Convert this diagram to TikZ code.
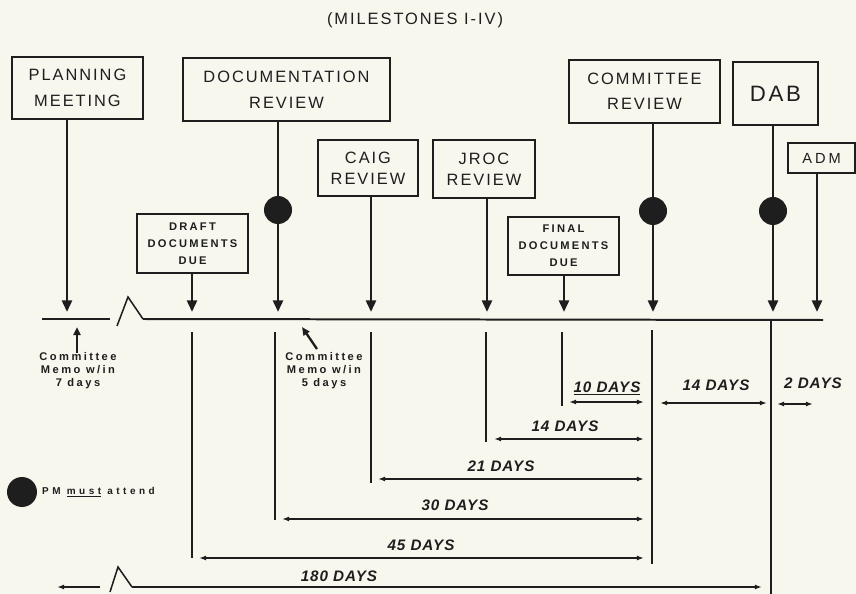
\documentclass[tikz,border=0pt]{standalone}
\usepackage{fontspec}
\setmainfont{Liberation Sans}
\newfontfamily\boxfont[LetterSpace=12]{Liberation Sans}
\newfontfamily\duefont[LetterSpace=20]{Liberation Sans}
\newfontfamily\memofont[LetterSpace=22]{Liberation Sans}
\newfontfamily\legendfont[LetterSpace=35]{Liberation Sans}
\newfontfamily\daysfont[LetterSpace=6]{Liberation Sans}
\usetikzlibrary{arrows.meta,shadows}
\definecolor{paper}{RGB}{248,247,238}
\definecolor{ink}{RGB}{30,30,30}

\begin{document}
\begin{tikzpicture}[x=0.03cm,y=-0.03cm,>=Latex,
  milebox/.style={draw=ink,line width=1.4pt,fill=paper,inner sep=0pt,align=center,text=ink,
    drop shadow={shadow xshift=0.9pt,shadow yshift=-0.9pt,fill=ink},
    font={\boxfont\fontsize{14}{22}\selectfont}},
  duebox/.style={milebox,line width=1.1pt,font={\duefont\bfseries\fontsize{9.5}{14.5}\selectfont}},
  stem/.style={ink,line width=2.4pt,-{Triangle[length=10pt,width=8.5pt]}},
  tline/.style={ink,line width=1.7pt},
  guide/.style={ink,line width=1.2pt},
  dimarr/.style={ink,line width=1.4pt,{Latex[length=6pt,width=4.2pt]}-{Latex[length=6pt,width=4.2pt]}},
  pmdot/.style={circle,fill=ink,inner sep=0pt,minimum size=0.84cm},
  days/.style={text=ink,inner sep=0pt,font={\daysfont\bfseries\itshape\fontsize{13}{15}\selectfont}},
  memo/.style={text=ink,inner sep=0pt,align=center,font={\memofont\bfseries\fontsize{9.5}{11}\selectfont}},
  memoarr/.style={ink,line width=2pt,-{Triangle[length=7pt,width=6pt]}}]

% background and frame
\fill[paper] (0,0) rectangle (856,594);
\useasboundingbox (0,0) rectangle (856,594);

\node[text=ink,font={\boxfont\fontsize{14}{17}\selectfont}] (title) at (415,20) {(MILESTONES I-IV)};

% milestone boxes
\node[milebox,minimum width=3.93cm,minimum height=1.86cm] (plan) at (77.5,88) {PLANNING\\MEETING};
\node[milebox,minimum width=6.21cm,minimum height=1.89cm] (docrev) at (286.5,89.5) {DOCUMENTATION\\REVIEW};
\node[milebox,minimum width=3cm,minimum height=1.68cm,font={\boxfont\fontsize{14}{18}\selectfont}] (caig) at (368,168) {CAIG\\REVIEW};
\node[milebox,minimum width=3.06cm,minimum height=1.74cm,font={\boxfont\fontsize{14}{18}\selectfont}] (jroc) at (484,169) {JROC\\REVIEW};
\node[milebox,minimum width=4.53cm,minimum height=1.89cm,font={\boxfont\fontsize{14}{21}\selectfont}] (comrev) at (644.5,91.5) {COMMITTEE\\REVIEW};
\node[milebox,minimum width=2.55cm,minimum height=1.89cm,font={\boxfont\fontsize{19}{22}\selectfont}] (dab) at (775.5,93.5) {DAB};
\node[milebox,minimum width=2.01cm,minimum height=0.9cm,font={\duefont\fontsize{12.5}{15}\selectfont}] (adm) at (821.5,158) {ADM};
\node[duebox,minimum width=3.33cm,minimum height=1.77cm] (draft) at (192.5,243.5) {DRAFT\\DOCUMENTS\\DUE};
\node[duebox,minimum width=3.33cm,minimum height=1.74cm] (final) at (563.5,246) {FINAL\\DOCUMENTS\\DUE};

% arrival points on the time line
\coordinate (tPlan) at (67,312);
\coordinate (tDraft) at (192,312);
\coordinate (tDoc) at (278,312);
\coordinate (tCaig) at (371,312);
\coordinate (tJroc) at (487,312);
\coordinate (tFinal) at (564,312);
\coordinate (tCom) at (653,312);
\coordinate (tDab) at (773,312);
\coordinate (tAdm) at (817,312);

\draw[stem] (plan.south -| tPlan) -- (tPlan);
\draw[stem] (draft.south -| tDraft) -- (tDraft);
\draw[stem] (docrev.south -| tDoc) -- (tDoc);
\draw[stem] (caig.south -| tCaig) -- (tCaig);
\draw[stem] (jroc.south -| tJroc) -- (tJroc);
\draw[stem] (final.south -| tFinal) -- (tFinal);
\draw[stem] (comrev.south -| tCom) -- (tCom);
\draw[stem] (dab.south -| tDab) -- (tDab);
\draw[stem] (adm.south -| tAdm) -- (tAdm);

% PM must attend
\node[pmdot] (dotDoc) at (278,210) {};
\node[pmdot] (dotCom) at (653,211) {};
\node[pmdot] (dotDab) at (773,211) {};

% time line with break
\coordinate (tlA) at (42,319);
\coordinate (tlB) at (110,319);
\coordinate (brA) at (117,326);
\coordinate (brB) at (128,297);
\coordinate (brC) at (143,319);
\coordinate (tlEnd) at (823,320);
\draw[tline] (tlA) -- (tlB);
\draw[tline,line width=1.3pt] (brA) -- (brB) -- (brC);
\draw[tline] (brC) -- (tlEnd);

% committee memos
\node[memo] (memo7) at (78,371) {Committee\\Memo w/in\\7 days};
\node[memo] (memo5) at (324,371) {Committee\\Memo w/in\\5 days};
\coordinate (m7tip) at (77,327);
\coordinate (m5tail) at (317,349);
\coordinate (m5tip) at (302,327);
\draw[memoarr] (memo7.north -| m7tip) -- (m7tip);
\draw[memoarr] (m5tail) -- (m5tip);

% guide lines below the time line
\coordinate (gDraftA) at (192,332); \coordinate (gDraftB) at (192,558);
\coordinate (gDocA) at (275,332);   \coordinate (gDocB) at (275,520);
\coordinate (gCaigA) at (371,332);  \coordinate (gCaigB) at (371,483);
\coordinate (gJrocA) at (486,332);  \coordinate (gJrocB) at (486,442);
\coordinate (gFinalA) at (562,332); \coordinate (gFinalB) at (562,406);
\coordinate (gComA) at (652,330);   \coordinate (gComB) at (652,564);
\coordinate (gDabA) at (771,320);   \coordinate (gDabB) at (771,594);
\draw[guide] (gDraftA) -- (gDraftB);
\draw[guide] (gDocA) -- (gDocB);
\draw[guide] (gCaigA) -- (gCaigB);
\draw[guide] (gJrocA) -- (gJrocB);
\draw[guide] (gFinalA) -- (gFinalB);
\draw[guide,line width=1.8pt] (gComA) -- (gComB);
\draw[guide,line width=1.5pt] (gDabA) -- (gDabB);

% durations
\coordinate (d10a) at (569,402);  \coordinate (d10b) at (644,402);
\coordinate (d14a) at (660,403);  \coordinate (d14b) at (767,403);
\coordinate (d2a) at (777,404);   \coordinate (d2b) at (813,404);
\coordinate (e14a) at (494,439);  \coordinate (e14b) at (644,439);
\coordinate (d21a) at (378,479);  \coordinate (d21b) at (644,479);
\coordinate (d30a) at (282,519);  \coordinate (d30b) at (644,519);
\coordinate (d45a) at (199,558);  \coordinate (d45b) at (644,558);
\draw[dimarr] (d10a) -- (d10b);
\draw[dimarr] (d14a) -- (d14b);
\draw[dimarr] (d2a) -- (d2b);
\draw[dimarr] (e14a) -- (e14b);
\draw[dimarr] (d21a) -- (d21b);
\draw[dimarr] (d30a) -- (d30b);
\draw[dimarr] (d45a) -- (d45b);

\node[days] (l10) at (607,388) {\underline{10 DAYS}};
\node[days] (l14r) at (716,385) {14 DAYS};
\node[days] (l2) at (813,383) {2 DAYS};
\node[days] (l14) at (565,426) {14 DAYS};
\node[days] (l21) at (501,466) {21 DAYS};
\node[days] (l30) at (455,505) {30 DAYS};
\node[days] (l45) at (421,545) {45 DAYS};
\node[days] (l180) at (339,576) {180 DAYS};

% 180 days with break
\coordinate (fA) at (100,587);
\coordinate (fTip) at (57,587);
\coordinate (fbA) at (110,592);
\coordinate (fbB) at (118,567);
\coordinate (fbC) at (132,587);
\coordinate (fEnd) at (762,587);
\draw[ink,line width=1.5pt,-{Latex[length=6pt,width=4.2pt]}] (fA) -- (fTip);
\draw[ink,line width=1.3pt] (fbA) -- (fbB) -- (fbC);
\draw[ink,line width=1.5pt,-{Latex[length=6pt,width=4.2pt]}] (fbC) -- (fEnd);

% legend
\node[pmdot,minimum size=0.9cm] (legdot) at (22,492) {};
\node[text=ink,inner sep=0pt,anchor=west,font={\legendfont\bfseries\fontsize{8.5}{10}\selectfont}] (legtxt) at (42,492) {PM \underline{must} attend};
\end{tikzpicture}
\end{document}
